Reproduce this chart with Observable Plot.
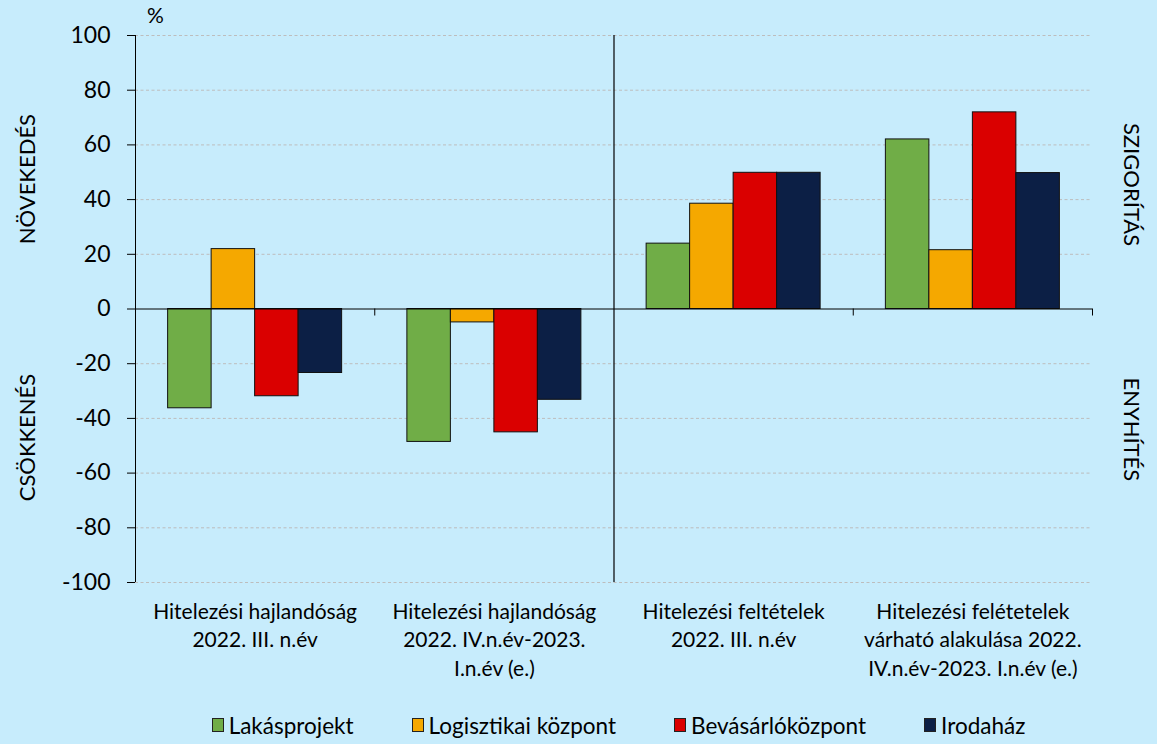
<!DOCTYPE html>
<html>
<head>
<meta charset="utf-8">
<script src="https://cdn.jsdelivr.net/npm/d3@7"></script>
<script src="https://cdn.jsdelivr.net/npm/@observablehq/plot@0.6"></script>
<style>
  html, body { margin: 0; padding: 0; background: #C7ECFC; }
  body { width: 1157px; height: 744px; overflow: hidden; font-family: Lato, "Open Sans", sans-serif; }
  #legend { display: flex; justify-content: center; align-items: center; gap: 58px;
            padding-left: 140px; padding-right: 60px; height: 50px; font-size: 22.5px; color: #000; }
  .item { display: flex; align-items: center; }
  .sw { width: 12px; height: 14px; border: 1px solid #222; margin-right: 5px; box-sizing: border-box; }
</style>
</head>
<body>
<div id="chart"></div>
<div id="legend"></div>
<script>
const categories = [
  "Hitelezési hajlandóság\n2022. III. n.év",
  "Hitelezési hajlandóság\n2022. IV.n.év-2023.\nI.n.év (e.)",
  "Hitelezési feltételek\n2022. III. n.év",
  "Hitelezési felétetelek\nvárható alakulása 2022.\nIV.n.év-2023. I.n.év (e.)"
];
const series = ["Lakásprojekt", "Logisztikai központ", "Bevásárlóközpont", "Irodaház"];
const colors = ["#70AD47", "#F5A800", "#DA0000", "#0C1F45"];
const lakasprojekt = [-36.3, -48.6, 23.9, 62.0];
const logisztikai = [21.9, -4.9, 38.5, 21.5];
const bevasarlo = [-31.9, -45.1, 49.8, 71.9];
const irodahaz = [-23.4, -33.2, 49.8, 49.7];
const yTicks = [-100, -80, -60, -40, -20, 0, 20, 40, 60, 80, 100];
const leftLabels = [{text: "NÖVEKEDÉS", y: 47.5}, {text: "CSÖKKENÉS", y: -47}];
const rightLabels = [{text: "SZIGORÍTÁS", y: 45.5}, {text: "ENYHÍTÉS", y: -44}];

const seriesValues = [lakasprojekt, logisztikai, bevasarlo, irodahaz];
const data = [];
categories.forEach((c, gi) => {
  series.forEach((s, si) => {
    data.push({gi, si, series: s, value: seriesValues[si][gi]});
  });
});
const nSeries = series.length;
const outer = 0.75;
const slots = nSeries + 2 * outer;
const groupCenters = categories.map((_, i) => i + 0.5);
const boundaryTicks = [1, 3, 4];

const chart = Plot.plot({
  width: 1157,
  height: 700,
  marginLeft: 135,
  marginRight: 65,
  marginTop: 35,
  marginBottom: 118,
  style: {background: "#C7ECFC", fontFamily: "Lato, 'Open Sans', sans-serif", fontSize: "20px", color: "#000", overflow: "visible"},
  x: {domain: [0, categories.length], axis: null},
  y: {domain: [-100, 100], axis: null},
  color: {domain: series, range: colors},
  marks: [
    Plot.ruleY(yTicks.filter(d => d !== 0), {stroke: "#bdbdbd", strokeDasharray: "3,2.5", strokeWidth: 1}),
    Plot.rect(data, {
      x1: d => d.gi + (outer + d.si) / slots,
      x2: d => d.gi + (outer + d.si + 1) / slots,
      y1: 0,
      y2: "value",
      fill: "series",
      stroke: "#111",
      strokeWidth: 1
    }),
    Plot.ruleY([0], {stroke: "#000", strokeWidth: 1}),
    Plot.ruleX([0], {stroke: "#000", strokeWidth: 1}),
    Plot.ruleX([2], {stroke: "#000", strokeWidth: 1.2}),
    Plot.ruleX(boundaryTicks, {y1: 0, y2: 0, insetBottom: -7, stroke: "#000", strokeWidth: 1}),
    Plot.axisY({ticks: yTicks, tickSize: 8, tickPadding: 17, fontSize: 23, tickFormat: d => String(d), label: null, stroke: "#000"}),
    Plot.axisX({ticks: groupCenters, tickSize: 0, tickPadding: 16, fontSize: 21, lineHeight: 1.36,
                tickFormat: i => categories[Math.floor(i)], label: null}),
    Plot.text(["%"], {frameAnchor: "top-left", dx: 20, dy: -19, textAnchor: "middle", lineAnchor: "middle", fontSize: 21}),
    Plot.text(leftLabels, {y: "y", text: "text", frameAnchor: "left", dx: -108, rotate: -90, textAnchor: "middle", lineAnchor: "middle", fontSize: 22}),
    Plot.text(rightLabels, {y: "y", text: "text", frameAnchor: "right", dx: 39, rotate: 90, textAnchor: "middle", lineAnchor: "middle", fontSize: 22})
  ]
});
document.getElementById("chart").append(chart);

const legend = document.getElementById("legend");
series.forEach((s, i) => {
  const item = document.createElement("div");
  item.className = "item";
  const sw = document.createElement("span");
  sw.className = "sw";
  sw.style.background = colors[i];
  const t = document.createElement("span");
  t.textContent = s;
  item.append(sw, t);
  legend.append(item);
});
</script>
</body>
</html>
